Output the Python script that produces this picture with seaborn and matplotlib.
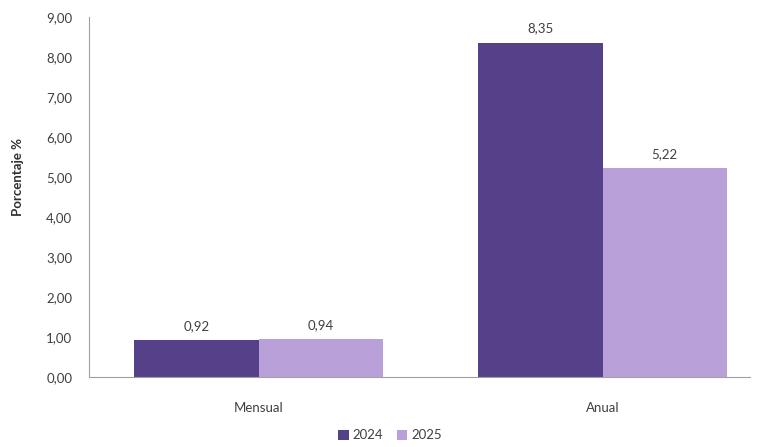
import numpy as np
import pandas as pd
import seaborn as sns
from matplotlib import pyplot as plt
from matplotlib.ticker import FuncFormatter

periodos = ['Mensual', 'Anual']
anios = ['2024', '2025']
valores_2024 = [0.92, 8.35]
valores_2025 = [0.94, 5.22]
colores = ['#55408a', '#b9a0d8']

df = pd.DataFrame({
    'periodo': periodos * 2,
    'anio': [anios[0]] * 2 + [anios[1]] * 2,
    'valor': valores_2024 + valores_2025,
})

sns.set_style('white')
plt.rcParams['font.family'] = ['Lato', 'DejaVu Sans']

fig = plt.figure(figsize=(7.61, 4.47), dpi=100)
ax = fig.add_axes([0.117, 0.157, 0.869, 0.805])
sns.barplot(data=df, x='periodo', y='valor', hue='anio', order=periodos,
            hue_order=anios, palette=colores, width=0.724, saturation=1,
            errorbar=None, linewidth=0, ax=ax)

for cont in ax.containers:
    ax.bar_label(cont, labels=[f'{v:.2f}'.replace('.', ',') for v in cont.datavalues],
                 padding=6, fontsize=9.5, color='#404040')

ax.set_ylim(0, 9)
ax.set_xlim(-0.494, 1.43)
ax.set_yticks(np.arange(0, 10, 1))
ax.yaxis.set_major_formatter(FuncFormatter(lambda v, p: f'{v:.2f}'.replace('.', ',')))
ax.tick_params(axis='both', length=0, labelsize=9.5, labelcolor='#404040')
ax.tick_params(axis='y', pad=12)
ax.tick_params(axis='x', pad=18)
ax.set_xlabel('')
ax.set_ylabel('Porcentaje %', fontsize=9.5, fontweight='bold', color='#303030')
ax.yaxis.set_label_coords(-0.099, 0.556)

for side in ['top', 'right']:
    ax.spines[side].set_visible(False)
for side in ['left', 'bottom']:
    ax.spines[side].set_color('#a0a0a0')
    ax.spines[side].set_linewidth(0.8)

ax.legend(loc='upper center', bbox_to_anchor=(0.455, -0.113), ncol=2, frameon=False,
          fontsize=9.5, handlelength=0.8, handleheight=0.8, handletextpad=0.3,
          columnspacing=1.0, labelcolor='#404040')

fig.savefig('out.png', dpi=100, facecolor='white')
